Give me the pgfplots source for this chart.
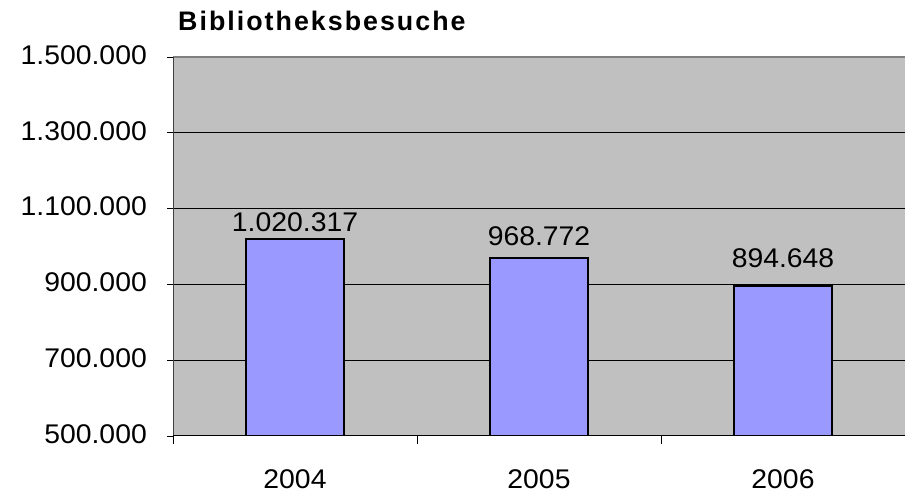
\documentclass[border=0pt]{standalone}
\usepackage{pgfplots}
\pgfplotsset{compat=1.18}
\usepackage{fontspec}
\setmainfont{Liberation Sans}
\newfontfamily\tickfam[FakeStretch=1.05]{Liberation Sans}
\newfontfamily\titlefam[LetterSpace=7.5]{Liberation Sans}
\newcommand\tickfont{\tickfam\fontsize{27}{30}\selectfont}
\newcommand\titlefont{\titlefam\bfseries\fontsize{26.8}{30}\selectfont}
\definecolor{plotbg}{HTML}{C0C0C0}
\definecolor{barblue}{HTML}{9999FF}
\definecolor{topgray}{HTML}{808080}
\begin{document}
\begin{tikzpicture}[x=1pt,y=1pt]
\useasboundingbox (0,0) rectangle (905,495);
\begin{axis}[
  at={(173pt,59pt)}, anchor=south west,
  scale only axis, width=732pt, height=379pt,
  xmin=-0.5, xmax=2.5, ymin=500000, ymax=1500000,
  scaled y ticks=false,
  axis line style={draw=none},
  axis background/.style={fill=plotbg},
  ybar, bar width=0.405, bar shift=0pt,
  ytick={500000,700000,900000,1100000,1300000,1500000},
  yticklabels={500.000,700.000,900.000,1.100.000,1.300.000,1.500.000},
  xtick={0,1,2}, xticklabels={2004,2005,2006},
  x tick style={draw=none},
  y tick style={black, line width=0.9pt},
  ytick pos=left, xtick pos=bottom,
  tick align=outside, major tick length=6pt,
  ymajorgrids, grid style={black, line width=1pt},
  extra x ticks={-0.5,0.5,1.5}, extra x tick labels={},
  extra x tick style={x tick style={draw=black, line width=0.9pt}, major tick length=8pt, xmajorgrids=false},
  tick label style={font=\tickfont, text=black},
  yticklabel style={anchor=east, inner sep=0pt, xshift=-20pt, yshift=2pt},
  xticklabel style={anchor=north, inner sep=0pt, yshift=-27pt},
  nodes near coords,
  /pgf/number format/.cd, fixed, precision=0, 1000 sep={.}, assume math mode=true,
]
\addplot[fill=barblue, draw=black, line width=2pt,
  nodes near coords style={font=\tickfont, text=black, inner sep=0pt, anchor=south, yshift=6pt}]
  coordinates {(0,1020317)};
\addplot[fill=barblue, draw=black, line width=2pt,
  nodes near coords style={font=\tickfont, text=black, inner sep=0pt, anchor=south, yshift=12pt}]
  coordinates {(1,968772)};
\addplot[fill=barblue, draw=black, line width=2pt,
  nodes near coords style={font=\tickfont, text=black, inner sep=0pt, anchor=south, yshift=18pt}]
  coordinates {(2,894648)};
\draw[topgray, line width=1.5pt] (rel axis cs:0,1) -- (rel axis cs:1,1);
\draw[black!75, line width=1pt] (rel axis cs:0,0) -- (rel axis cs:0,1);
\draw[black, line width=1.2pt] (rel axis cs:0,0) -- (rel axis cs:1,0);
\end{axis}
\node[anchor=base west, inner sep=0pt, font=\titlefont] at (178,464) {Bibliotheksbesuche};
\end{tikzpicture}
\end{document}
